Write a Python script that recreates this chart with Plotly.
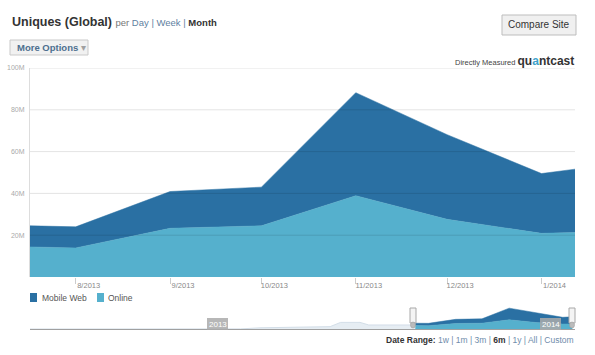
import plotly.graph_objects as go

# ---------------- data ----------------
dates = ["2013-07-17", "2013-08-01", "2013-09-01", "2013-10-01",
         "2013-11-01", "2013-12-01", "2014-01-01", "2014-01-12"]
online_m = [14.4, 13.9, 23.3, 24.5, 38.9, 27.6, 20.9, 21.3]        # millions
mobile_web_m = [10.1, 10.1, 17.6, 18.5, 49.3, 40.5, 28.6, 30.3]   # millions (stacked on top)

nav_hist_dates = ["2012-05-04", "2012-12-30", "2013-01-21", "2013-04-11", "2013-04-23",
                  "2013-05-15", "2013-05-25", "2013-07-17"]
nav_hist_m = [0.0, 0.5, 5.0, 10.0, 28.0, 28.0, 17.0, 17.0]

x_tick_vals = ["2013-08-01", "2013-09-01", "2013-10-01", "2013-11-01", "2013-12-01", "2014-01-01"]
x_tick_text = ["8/2013", "9/2013", "10/2013", "11/2013", "12/2013", "1/2014"]
y_tick_vals_m = [20, 40, 60, 80, 100]
y_tick_text = ["20M", "40M", "60M", "80M", "100M"]

series_names = ["Mobile Web", "Online"]
colors = {"Mobile Web": "#2a70a3", "Online": "#55b0cd"}

# ---------------- geometry helpers (pixel -> paper) ----------------
FW, FH = 595, 355
L, R, T, B = 30, 20, 68, 26
W = FW - L - R
H = FH - T - B


def px(x):
    return (x - L) / W


def py(y):
    return (FH - B - y) / H


M = 1e6
online = [v * M for v in online_m]
mobile = [v * M for v in mobile_web_m]
nav_hist = [v * M for v in nav_hist_m]

fig = go.Figure()

# main stacked areas
fig.add_trace(go.Scatter(x=dates, y=online, name="Online", stackgroup="main",
                         mode="lines", line=dict(width=0.5, color=colors["Online"]),
                         fillcolor=colors["Online"], xaxis="x", yaxis="y",
                         hoverinfo="skip", showlegend=False))
fig.add_trace(go.Scatter(x=dates, y=mobile, name="Mobile Web", stackgroup="main",
                         mode="lines", line=dict(width=0.5, color=colors["Mobile Web"]),
                         fillcolor=colors["Mobile Web"], xaxis="x", yaxis="y",
                         hoverinfo="skip", showlegend=False))

# navigator: faint history
fig.add_trace(go.Scatter(x=nav_hist_dates, y=nav_hist, mode="lines", fill="tozeroy",
                         line=dict(width=1, color="#d3dee8"), fillcolor="#e6edf3",
                         xaxis="x2", yaxis="y2", hoverinfo="skip", showlegend=False))
# navigator: selected range
fig.add_trace(go.Scatter(x=dates, y=online, stackgroup="nav", mode="lines",
                         line=dict(width=0.5, color=colors["Online"]), fillcolor=colors["Online"],
                         xaxis="x2", yaxis="y2", hoverinfo="skip", showlegend=False))
fig.add_trace(go.Scatter(x=dates, y=mobile, stackgroup="nav", mode="lines",
                         line=dict(width=0.5, color=colors["Mobile Web"]), fillcolor=colors["Mobile Web"],
                         xaxis="x2", yaxis="y2", hoverinfo="skip", showlegend=False))

shapes = []
# gridlines drawn above the areas
for v in y_tick_vals_m:
    shapes.append(dict(type="line", xref="x domain", yref="y", x0=0, x1=1, y0=v * M, y1=v * M,
                       line=dict(color="rgba(0,0,0,0.11)", width=1), layer="above"))

annotations = []
# title
annotations.append(dict(
    xref="paper", yref="paper", x=px(10), y=py(22), xanchor="left", yanchor="middle",
    showarrow=False,
    text=("<b>Uniques (Global)</b> <span style='font-size:9.5px;color:#777'>per </span>"
          "<span style='font-size:9.5px;color:#5f7f9f'>Day | Week | </span>"
          "<span style='font-size:9.5px;color:#333'><b>Month</b></span>"),
    font=dict(family="Liberation Sans, Arial", size=12.5, color="#333")))

# More Options button
shapes.append(dict(type="rect", xref="paper", yref="paper", x0=px(10), x1=px(88), y0=py(55), y1=py(40),
                   fillcolor="#f1f1f1", line=dict(color="#c9c9c9", width=1)))
annotations.append(dict(xref="paper", yref="paper", x=px(15), y=py(47.5), xanchor="left", yanchor="middle",
                        showarrow=False,
                        text="<b>More Options</b> <span style='color:#a0a0a0'>▾</span>",
                        font=dict(family="Liberation Sans, Arial", size=9.5, color="#4d6f8f")))

# Compare Site button
shapes.append(dict(type="rect", xref="paper", yref="paper", x0=px(502), x1=px(576), y0=py(35), y1=py(15),
                   fillcolor="#f0f0f0", line=dict(color="#bdbdbd", width=1)))
annotations.append(dict(xref="paper", yref="paper", x=px(539), y=py(25), xanchor="center", yanchor="middle",
                        showarrow=False, text="Compare Site",
                        font=dict(family="Liberation Sans, Arial", size=10, color="#333")))

# Directly Measured quantcast
annotations.append(dict(xref="paper", yref="paper", x=px(576), y=py(61), xanchor="right", yanchor="middle",
                        showarrow=False,
                        text=("<span style='font-size:7.5px;color:#444'>Directly Measured </span>"
                              "<b>qu<span style='color:#3ea3cc'>a</span>ntcast</b>"),
                        font=dict(family="Liberation Sans, Arial", size=12, color="#333")))

# legend (custom)
leg_items = [("Mobile Web", 30, 40), ("Online", 97, 106)]
for name, sx, tx in leg_items:
    shapes.append(dict(type="rect", xref="paper", yref="paper", x0=px(sx), x1=px(sx + 7),
                       y0=py(302), y1=py(293), fillcolor=colors[name], line=dict(width=0)))
    annotations.append(dict(xref="paper", yref="paper", x=px(tx), y=py(297.5), xanchor="left",
                            yanchor="middle", showarrow=False, text=name,
                            font=dict(family="Liberation Sans, Arial", size=8.5, color="#555")))

# navigator year labels
for label, lx in [("2013", 207), ("2014", 540)]:
    shapes.append(dict(type="rect", xref="paper", yref="paper", x0=px(lx), x1=px(lx + 21),
                       y0=py(330), y1=py(318), fillcolor="rgba(170,170,170,0.85)", line=dict(width=0)))
    annotations.append(dict(xref="paper", yref="paper", x=px(lx + 10.5), y=py(324), xanchor="center",
                            yanchor="middle", showarrow=False, text=label,
                            font=dict(family="Liberation Sans, Arial", size=8, color="#ffffff")))

# navigator handles
for hx in [413, 572]:
    shapes.append(dict(type="rect", xref="paper", yref="paper", x0=px(hx - 3), x1=px(hx + 3),
                       y0=py(323), y1=py(308), fillcolor="#f4f4f4", line=dict(color="#a8a8a8", width=1)))
    shapes.append(dict(type="circle", xref="paper", yref="paper", x0=px(hx - 2.5), x1=px(hx + 2.5),
                       y0=py(328), y1=py(322), fillcolor="#bbbbbb", line=dict(color="#999", width=0.5)))

# Date range selector
annotations.append(dict(xref="paper", yref="paper", x=px(576), y=py(340), xanchor="right", yanchor="middle",
                        showarrow=False,
                        text=("<b>Date Range:</b> <span style='color:#6f8cab'>1w | 1m | 3m | </span>"
                              "<b>6m</b><span style='color:#6f8cab'> | 1y | All | Custom</span>"),
                        font=dict(family="Liberation Sans, Arial", size=8.5, color="#333")))

fig.update_layout(
    width=FW, height=FH,
    margin=dict(l=L, r=R, t=T, b=B, autoexpand=False),
    paper_bgcolor="white", plot_bgcolor="white",
    showlegend=False,
    font=dict(family="Liberation Sans, Arial"),
    xaxis=dict(domain=[0, 1], anchor="y", type="date", range=[dates[0], dates[-1]], automargin=False,
               tickvals=x_tick_vals, ticktext=x_tick_text, ticks="outside", ticklen=6,
               tickcolor="#cccccc", tickwidth=1, ticklabelshift=13, ticklabelstandoff=-5,
               tickfont=dict(size=7.5, color="#888"), showgrid=False, showline=False, zeroline=False),
    yaxis=dict(domain=[py(277), 1], anchor="x", range=[0, 100 * M], automargin=False,
               tickvals=[v * M for v in y_tick_vals_m], ticktext=y_tick_text, ticks="",
               tickfont=dict(size=7, color="#aaa"), showgrid=False, zeroline=False,
               showline=True, linecolor="#dddddd", linewidth=1, ticklabelstandoff=3),
    xaxis2=dict(domain=[0, 1], anchor="y2", type="date", range=["2012-05-04", "2014-01-15"],
                automargin=False,
                showticklabels=False, ticks="", showgrid=False, zeroline=False,
                showline=True, linecolor="#a0a0a0", linewidth=1),
    yaxis2=dict(domain=[0, py(303)], anchor="x2", range=[0, 110 * M], showticklabels=False,
                automargin=False,
                ticks="", showgrid=False, zeroline=False, showline=False),
    shapes=shapes, annotations=annotations,
)

fig.write_html("out.html", config={"displayModeBar": False},
               post_script="document.body.style.margin='0px';document.body.style.padding='0px';")
